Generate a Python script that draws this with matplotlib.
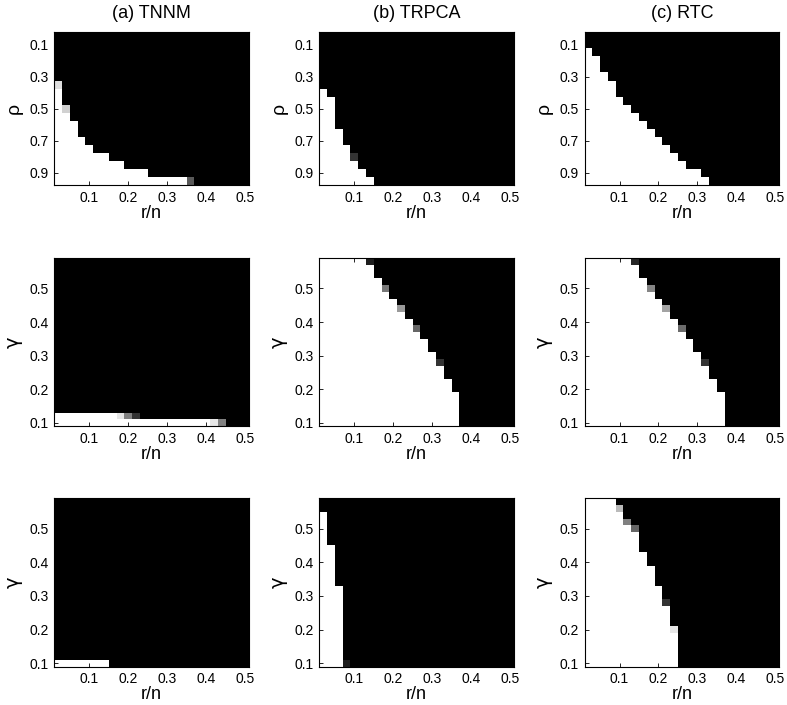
import matplotlib
matplotlib.use("Agg")
import matplotlib.pyplot as plt
import numpy as np

plt.rcParams["font.family"] = ["Liberation Sans", "DejaVu Sans"]

# grid of the phase diagrams
r_n = [0.02, 0.04, 0.06, 0.08, 0.10, 0.12, 0.14, 0.16, 0.18, 0.20, 0.22, 0.24, 0.26,
       0.28, 0.30, 0.32, 0.34, 0.36, 0.38, 0.40, 0.42, 0.44, 0.46, 0.48, 0.50]
rho = [0.05, 0.10, 0.15, 0.20, 0.25, 0.30, 0.35, 0.40, 0.45, 0.50,
       0.55, 0.60, 0.65, 0.70, 0.75, 0.80, 0.85, 0.90, 0.95]
gamma = [0.10, 0.12, 0.14, 0.16, 0.18, 0.20, 0.22, 0.24, 0.26, 0.28, 0.30, 0.32, 0.34,
         0.36, 0.38, 0.40, 0.42, 0.44, 0.46, 0.48, 0.50, 0.52, 0.54, 0.56, 0.58]

methods = ["(a) TNNM", "(b) TRPCA", "(c) RTC"]

# per row: number of fully recovered cells counted from r/n = 0.02,
# plus partially recovered cells as (row, col, success rate)
tnnm_rho_full = [0, 0, 0, 0, 0, 0, 0, 1, 1, 1, 2, 3, 3, 4, 5, 7, 9, 12, 17]
tnnm_rho_part = [(6, 0, 0.87), (9, 1, 0.82), (18, 17, 0.35)]
trpca_rho_full = [0, 0, 0, 0, 0, 0, 0, 1, 2, 2, 2, 2, 3, 3, 4, 4, 5, 6, 7]
trpca_rho_part = [(15, 4, 0.2)]
rtc_rho_full = [0, 0, 1, 2, 2, 3, 4, 4, 5, 6, 7, 8, 9, 10, 11, 12, 13, 15, 16]
rtc_rho_part = []

tnnm_g1_full = [20, 8] + [0] * 23
tnnm_g1_part = [(0, 20, 0.9), (0, 21, 0.5), (1, 8, 0.9), (1, 9, 0.5), (1, 10, 0.2)]
trpca_g1_full = [18, 18, 18, 18, 18, 17, 17, 16, 16, 15, 15, 14, 14,
                 13, 12, 12, 11, 10, 10, 9, 8, 8, 7, 7, 6]
trpca_g1_part = [(24, 6, 0.12), (20, 8, 0.47), (17, 10, 0.6), (14, 12, 0.4), (9, 15, 0.2)]
rtc_g1_full = [18, 18, 18, 18, 18, 17, 17, 16, 16, 15, 15, 14, 14,
               13, 12, 12, 11, 10, 10, 9, 8, 8, 7, 7, 6]
rtc_g1_part = [(24, 6, 0.15), (20, 8, 0.52), (17, 10, 0.64), (14, 12, 0.42), (9, 15, 0.2)]

tnnm_g2_full = [7] + [0] * 24
tnnm_g2_part = []
trpca_g2_full = [3] * 12 + [2] * 6 + [1] * 5 + [0, 0]
trpca_g2_part = [(0, 3, 0.12)]
rtc_g2_full = [12, 12, 12, 12, 12, 11, 11, 11, 11, 10, 10, 10, 9,
               9, 9, 8, 8, 7, 7, 7, 6, 5, 5, 4, 4]
rtc_g2_part = [(5, 11, 0.9), (9, 10, 0.2), (20, 6, 0.4), (21, 5, 0.5), (23, 4, 0.73)]

panels = [
    [(tnnm_rho_full, tnnm_rho_part), (trpca_rho_full, trpca_rho_part), (rtc_rho_full, rtc_rho_part)],
    [(tnnm_g1_full, tnnm_g1_part), (trpca_g1_full, trpca_g1_part), (rtc_g1_full, rtc_g1_part)],
    [(tnnm_g2_full, tnnm_g2_part), (trpca_g2_full, trpca_g2_part), (rtc_g2_full, rtc_g2_part)],
]


def build_map(full, part, ncols):
    m = np.zeros((len(full), ncols))
    for i, n in enumerate(full):
        m[i, :n] = 1.0
    for i, j, v in part:
        m[i, j] = v
    return m


W, H = 787, 705
fig = plt.figure(figsize=(W / 100, H / 100), dpi=100)

col_left = [54.3, 319.3, 584.5]
col_width = 194.6
row_span = [(32.3, 185.0), (258.3, 426.0), (498.3, 666.7)]

for r in range(3):
    top, bot = row_span[r]
    for c in range(3):
        ax = fig.add_axes([col_left[c] / W, 1 - bot / H, col_width / W, (bot - top) / H])
        full, part = panels[r][c]
        m = build_map(full, part, len(r_n))
        yv = rho if r == 0 else gamma
        ax.pcolormesh(r_n, yv, m, cmap="gray", vmin=0, vmax=1,
                      shading="nearest", antialiased=False, linewidth=0)
        ax.set_xticks([0.1, 0.2, 0.3, 0.4, 0.5])
        if r == 0:
            ax.invert_yaxis()
            ax.set_yticks([0.1, 0.3, 0.5, 0.7, 0.9])
            ax.set_ylabel("ρ", fontsize=14, labelpad=5)
            ax.set_title(methods[c], fontsize=13, pad=10)
        else:
            ax.set_yticks([0.1, 0.2, 0.3, 0.4, 0.5])
            ax.set_ylabel("γ", fontsize=14, labelpad=5, family=["DejaVu Sans"])
        ax.set_xticklabels(["0.1", "0.2", "0.3", "0.4", "0.5"])
        ax.set_xlabel("r/n", fontsize=13, labelpad=0)
        ax.tick_params(direction="in", top=True, right=True, length=3, width=0.6,
                       labelsize=10, pad=4)
        for s in ax.spines.values():
            s.set_linewidth(0.8)

fig.savefig("out.png", dpi=100)
